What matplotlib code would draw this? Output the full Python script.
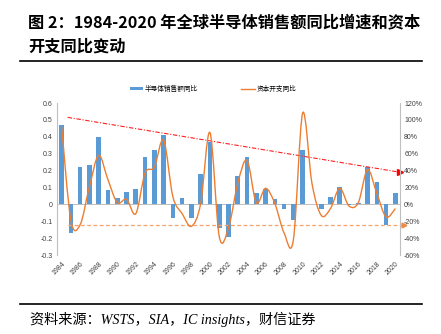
import numpy as np
import matplotlib
matplotlib.use('Agg')
import matplotlib.pyplot as plt
from matplotlib.path import Path
from matplotlib.patches import PathPatch

plt.rcParams['font.family'] = ['Liberation Sans', 'Noto Sans CJK SC']

years = list(range(1984, 2021))
# semiconductor sales yoy (left axis)
sales = [0.47, -0.17, 0.22, 0.23, 0.40, 0.087, 0.038, 0.075, 0.09, 0.28,
         0.32, 0.41, -0.083, 0.036, -0.083, 0.18, 0.37, -0.14, -0.195, 0.17,
         0.28, 0.065, 0.09, 0.032, -0.028, -0.09, 0.32, 0.003, -0.028, 0.045,
         0.10, -0.002, 0.01, 0.22, 0.135, -0.12, 0.065]
# capex yoy in % (right axis)
capex = [92, -19, -24, 21, 58, 29, 2, 6, -11, 37,
         44, 76, 9, -11, -26, 1, 85, -38, -28, 25,
         52, 2, 19, 1, -34, -42, 108, 25, -13, -5,
         19, -2, 2, 41, 13, -15, -5]
# trend guide lines (left axis units)
red_trend = [0.515, 0.19]
orange_level = -0.122

blue = '#5B9BD5'
orange = '#ED7D31'
gray = '#BFBFBF'

fig = plt.figure(figsize=(4.41, 3.34), dpi=100)
ax = fig.add_axes([57 / 441, 1 - 255 / 334, 343 / 441, 152 / 334])
ax2 = ax.twinx()

x = np.arange(len(years))
ax.bar(x, sales, width=0.5, color=blue, zorder=2, label='半导体销售额同比')
ax.axhline(0, color=gray, lw=0.7, zorder=1)


# smoothed capex line (Excel-style smoothing via bezier segments)
def smooth_path(xs, ys):
    pts = np.column_stack([xs, ys]).astype(float)
    verts = [pts[0]]
    codes = [Path.MOVETO]
    n = len(pts)
    for i in range(n - 1):
        p0 = pts[i - 1] if i > 0 else pts[i]
        p1 = pts[i]
        p2 = pts[i + 1]
        p3 = pts[i + 2] if i + 2 < n else pts[i + 1]
        c1 = p1 + (p2 - p0) / 6.0
        c2 = p2 - (p3 - p1) / 6.0
        verts += [c1, c2, p2]
        codes += [Path.CURVE4] * 3
    return Path(verts, codes)


ax2.add_patch(PathPatch(smooth_path(x, capex), fill=False, ec=orange, lw=1.0, zorder=3))
ax2.plot([], [], color=orange, lw=1.0, label='资本开支同比')

# guide lines with arrows
ax.plot([0.65, 36.5], red_trend, color='#FF2020', lw=0.8, ls=(0, (4, 1.5, 1, 1.5)), zorder=4)
ax.plot([36.5], [red_trend[1]], marker='>', color='#FF0000', ms=4, clip_on=False, zorder=5)
ax.plot([0.65, 36.7], [orange_level, orange_level], color='#F4A46A', lw=0.9, ls=(0, (3, 2)), zorder=4, clip_on=False)
ax.plot([36.9], [orange_level], marker='>', color='#F08A45', ms=3.5, clip_on=False, zorder=5)

ax.set_xlim(-0.5, len(years) - 0.5)
ax.set_ylim(-0.3, 0.6)
ax2.set_ylim(-60, 120)
ax.set_yticks(np.arange(-0.3, 0.61, 0.1))
ax.set_yticklabels(['-0.3', '-0.2', '-0.1', '0', '0.1', '0.2', '0.3', '0.4', '0.5', '0.6'])
ax2.set_yticks(np.arange(-60, 121, 20))
ax2.set_yticklabels(['%d%%' % v for v in range(-60, 121, 20)])
ax.set_xticks(x[::2])
ax.set_xticklabels([str(y) for y in years[::2]], rotation=45, ha='right', va='top',
                   rotation_mode='anchor')

for a in (ax, ax2):
    for s in ('top', 'bottom'):
        a.spines[s].set_visible(False)
    a.spines['left'].set_color(gray)
    a.spines['right'].set_color(gray)
    a.tick_params(length=0, labelsize=5, colors='#404040', pad=3)
ax.tick_params(axis='x', pad=4)
ax2.spines['left'].set_visible(False)
ax.spines['right'].set_visible(False)

h1, l1 = ax.get_legend_handles_labels()
h2, l2 = ax2.get_legend_handles_labels()
fig.legend(h1 + h2, l1 + l2, loc='center', bbox_to_anchor=(213 / 441, 1 - 89 / 334), ncol=2,
           frameon=False, handlelength=2.0, handleheight=0.35, columnspacing=6.5,
           handletextpad=0.3, prop={'family': ['Noto Sans CJK SC'], 'size': 4.8})

# title and source
fig.text(28 / 441, 1 - 22 / 334, '图 2：1984-2020 年全球半导体销售额同比增速和资本',
         fontsize=11.7, fontweight='bold', family=['Noto Sans CJK SC'], va='center')
fig.text(28 / 441, 1 - 47 / 334, '开支同比变动',
         fontsize=11.7, fontweight='bold', family=['Noto Sans CJK SC'], va='center')
fig.add_artist(plt.Line2D([20 / 441, 422 / 441], [1 - 61 / 334, 1 - 61 / 334], color='black', lw=1.2))
fig.add_artist(plt.Line2D([20 / 441, 422 / 441], [1 - 304 / 334, 1 - 304 / 334], color='black', lw=1.2))
fig.text(30 / 441, 1 - 319 / 334, '资料来源：WSTS，SIA，IC insights，财信证券',
         fontsize=10.2, style='italic', family=['Liberation Serif', 'Noto Sans CJK SC'], va='center')

fig.savefig('out.png', dpi=100)
